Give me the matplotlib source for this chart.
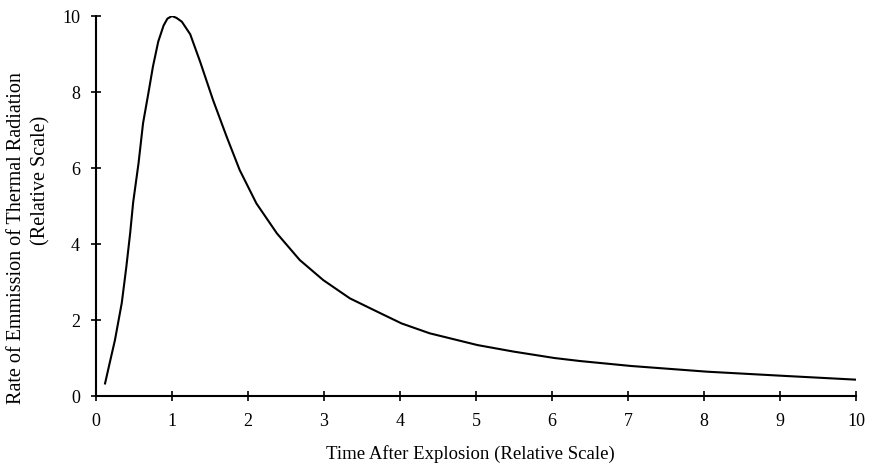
import matplotlib.pyplot as plt

plt.switch_backend("Agg")
plt.rcParams["font.family"] = ["Liberation Serif", "DejaVu Serif"]

# values
time = [0.12, 0.18, 0.25, 0.34, 0.40, 0.45, 0.49, 0.56, 0.62, 0.69, 0.75, 0.82,
        0.89, 0.94, 1.0, 1.06, 1.13, 1.24, 1.37, 1.54, 1.72, 1.89, 2.11, 2.38,
        2.68, 2.99, 3.34, 3.74, 4.02, 4.39, 5.02, 5.49, 6.03, 6.37, 7.04, 8.04,
        9.05, 10.0]
rate = [0.33, 0.86, 1.47, 2.45, 3.40, 4.28, 5.10, 6.12, 7.18, 7.97, 8.67, 9.33,
        9.75, 9.93, 10.0, 9.95, 9.85, 9.52, 8.80, 7.79, 6.82, 5.95, 5.07, 4.28,
        3.58, 3.05, 2.57, 2.18, 1.91, 1.65, 1.34, 1.17, 1.0, 0.92, 0.79, 0.64,
        0.53, 0.43]
xticks = list(range(0, 11))
yticks = [0, 2, 4, 6, 8, 10]

fig = plt.figure(figsize=(8.72, 4.68), dpi=100)
ax = fig.add_axes([0.110, 0.1538, 0.872, 0.812])
ax.plot(time, rate, color="black", linewidth=1.5, solid_joinstyle="round")

ax.set_xlim(0, 10)
ax.set_ylim(0, 10)
ax.set_xticks(xticks)
ax.set_yticks(yticks)
ax.spines[["top", "right"]].set_visible(False)
ax.spines[["left", "bottom"]].set_linewidth(1.5)
ax.tick_params(direction="inout", length=7, width=1.2, labelsize=13)
ax.tick_params(axis="x", pad=9)
ax.tick_params(axis="y", pad=8)

# labels placed by hand, the two y-label lines are not centred on each other
fig.text(0.539, 0.030, "Time After Explosion (Relative Scale)",
         fontsize=13.5, ha="center", va="center")
fig.text(0.019, 0.491, "Rate of Emmission of Thermal Radiation",
         fontsize=14.5, rotation=90, ha="center", va="center")
fig.text(0.047, 0.615, "(Relative Scale)",
         fontsize=14.5, rotation=90, ha="center", va="center")

fig.savefig("out.png", dpi=100)
